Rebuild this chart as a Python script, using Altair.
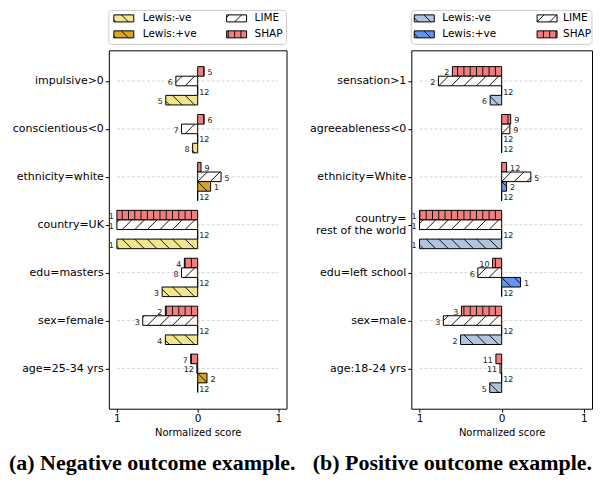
import math
import json
import altair as alt
import pandas as pd

# ------------------------------------------------------------------ data
features_a = ["impulsive>0", "conscientious<0", "ethnicity=white", "country=UK",
              "edu=masters", "sex=female", "age=25-34 yrs"]
shap_a = [0.078, 0.078, 0.041, -1.0, -0.165, -0.40, -0.086]
shap_rank_a = [5, 6, 9, 1, 4, 2, 7]
lime_a = [-0.27, -0.20, 0.29, -1.0, -0.20, -0.68, -0.01]
lime_rank_a = [6, 7, 5, 1, 8, 3, 12]
lewis_pos_a = [0, 0, 0.16, 0, 0, 0, 0.115]
lewis_pos_rank_a = [12, 12, 1, 12, 12, 12, 2]
lewis_neg_a = [-0.395, -0.062, 0, -1.0, -0.44, -0.40, 0]
lewis_neg_rank_a = [5, 8, 12, 1, 3, 4, 12]

features_b = ["sensation>1", "agreeableness<0", "ethnicity=White", "country=\nrest of the world",
              "edu=left school", "sex=male", "age:18-24 yrs"]
shap_b = [-0.60, 0.11, 0.06, -1.0, -0.11, -0.49, -0.07]
shap_rank_b = [2, 9, 12, 1, 10, 3, 11]
lime_b = [-0.77, 0.10, 0.355, -1.0, -0.29, -0.71, -0.02]
lime_rank_b = [2, 9, 5, 1, 6, 3, 11]
lewis_pos_b = [0, 0, 0.06, 0, 0.23, 0, 0]
lewis_pos_rank_b = [12, 12, 2, 12, 1, 12, 12]
lewis_neg_b = [-0.14, 0, 0, -1.0, 0, -0.50, -0.145]
lewis_neg_rank_b = [6, 12, 12, 1, 12, 2, 5]

caption_a = "(a) Negative outcome example."
caption_b = "(b) Positive outcome example."

# ------------------------------------------------------------------ style
METHODS = ["SHAP", "LIME", "Lewis:+ve", "Lewis:-ve"]
OFFSET = {"SHAP": -0.2, "LIME": 0.0, "Lewis:+ve": 0.2, "Lewis:-ve": 0.4}
HATCH = {"SHAP": "|", "LIME": "/", "Lewis:+ve": "\\", "Lewis:-ve": "\\"}
COLORS_A = {"SHAP": "#F08080", "LIME": "#FFFAFA", "Lewis:+ve": "#DAA520", "Lewis:-ve": "#F0E68C"}
COLORS_B = {"SHAP": "#F08080", "LIME": "#FFFAFA", "Lewis:+ve": "#6495ED", "Lewis:-ve": "#B0C4DE"}
BAR_H = 0.2
XDOM = [-1.1, 1.1]
YDOM = [-0.64, 6.84]
H = 359
V_SP = 6.3     # px spacing of vertical hatch
D_SP = 12.6    # px spacing of diagonal hatch
FONT = "DejaVu Sans"
LINE_H = 12


def hatch_lines(x_lo, x_hi, y_top, y_bot, kind, kx, ky):
    segs = []
    if x_hi - x_lo <= 1e-9:
        return segs
    if kind == "|":
        s = V_SP / kx
        k = math.floor(x_lo / s) + 1
        while k * s < x_hi - 1e-9:
            x = k * s
            if x > x_lo + 1e-9:
                segs.append((x, y_top, x, y_bot))
            k += 1
    else:
        s = D_SP / kx
        run = (y_bot - y_top) * ky / kx
        k = math.floor((x_lo - run) / s)
        while k * s < x_hi:
            c = k * s
            t0 = max(0.0, (x_lo - c) / run)
            t1 = min(1.0, (x_hi - c) / run)
            if t1 - t0 > 0.03:
                if kind == "/":
                    ya = y_bot + (y_top - y_bot) * t0
                    yb = y_bot + (y_top - y_bot) * t1
                else:
                    ya = y_top + (y_bot - y_top) * t0
                    yb = y_top + (y_bot - y_top) * t1
                segs.append((c + run * t0, ya, c + run * t1, yb))
            k += 1
    return segs


def panel(features, series, colors, width, leg, caption, cap_x, cap_align):
    kx = width / (XDOM[1] - XDOM[0])
    ky = H / (YDOM[1] - YDOM[0])
    bars, hat, grid = [], [], []
    for i, f in enumerate(features):
        grid.append(dict(gx0=-1.0, gx1=1.0, gy=float(i)))
        for m in METHODS:
            v = series[m][0][i]
            r = series[m][1][i]
            yc = i + OFFSET[m]
            y0, y1 = yc - BAR_H / 2, yc + BAR_H / 2
            bars.append(dict(method=m, v=v, zero=0.0, y0=y0, y1=y1, yc=yc,
                             rank=str(r), fill=colors[m]))
            for a, b, c, d in hatch_lines(min(0, v), max(0, v), y0, y1, HATCH[m], kx, ky):
                hat.append(dict(xa=a, ya=b, xb=c, yb=d))
    bars_df = pd.DataFrame(bars)
    hat_df = pd.DataFrame(hat)
    grid_df = pd.DataFrame(grid)

    labels = [f.split("\n") if "\n" in f else f for f in features]
    multi = [i for i, f in enumerate(features) if "\n" in f]
    if multi:
        test = " || ".join(f"datum.value == {i}" for i in multi)
        label_offset = {"condition": {"test": test, "value": -LINE_H / 2}, "value": 0}
    else:
        label_offset = 0

    xs = alt.Scale(domain=XDOM, nice=False, zero=False)
    ys = alt.Scale(domain=YDOM, nice=False, zero=False, reverse=True)
    xaxis = alt.Axis(values=[-1, 0, 1], labelExpr="format(abs(datum.value), 'd')",
                     title="Normalized score", titleFontSize=10, titleFontWeight="normal",
                     titlePadding=3, labelFontSize=10.5, tickSize=3.5, labelPadding=1.5,
                     grid=False, domain=False)
    yaxis = alt.Axis(values=list(range(len(features))),
                     labelExpr=json.dumps(labels) + "[datum.value]",
                     title=None, labelFontSize=11, tickSize=3.5, labelPadding=2,
                     labelLineHeight=LINE_H, labelOffset=label_offset,
                     grid=False, domain=False)

    def X(f):
        return alt.X(f"{f}:Q", scale=xs, axis=xaxis)

    def Y(f):
        return alt.Y(f"{f}:Q", scale=ys, axis=yaxis)

    one = pd.DataFrame({"k": [0]})

    grid_l = alt.Chart(grid_df).mark_rule(color="#d6d6d6", strokeDash=[3, 2], strokeWidth=1).encode(
        x=X("gx0"), x2="gx1", y=Y("gy"))
    bar_l = alt.Chart(bars_df).mark_rect(stroke="black", strokeWidth=1).encode(
        x=X("zero"), x2="v", y=Y("y0"), y2="y1", fill=alt.Fill("fill:N", scale=None))
    hat_l = alt.Chart(hat_df).mark_rule(color="black", strokeWidth=0.9).encode(
        x=X("xa"), x2="xb", y=Y("ya"), y2="yb")
    txt = dict(baseline="middle", dy=2, fontSize=8, font=FONT, color="#222222")
    lab_neg = alt.Chart(bars_df).transform_filter("datum.v < 0").mark_text(
        align="right", dx=-3, **txt).encode(x=X("v"), y=Y("yc"), text="rank:N")
    lab_zero = alt.Chart(bars_df).transform_filter("datum.v == 0").mark_text(
        align="left", dx=1.5, **txt).encode(x=X("v"), y=Y("yc"), text="rank:N")
    lab_pos = alt.Chart(bars_df).transform_filter("datum.v > 0").mark_text(
        align="left", dx=3.5, **txt).encode(x=X("v"), y=Y("yc"), text="rank:N")

    # ---- legend (pixel space) ----
    order = [("Lewis:-ve", 0, 0), ("Lewis:+ve", 0, 1), ("LIME", 1, 0), ("SHAP", 1, 1)]
    sw, sw_h, lt = [], [], []
    for m, col, row in order:
        x0 = leg["sw"][col]
        yc = leg["rows"][row]
        sw.append(dict(px0=x0, px1=x0 + 20, py0=yc - 3.5, py1=yc + 3.5, fill=colors[m]))
        for a, b, c, d in hatch_lines(x0, x0 + 20, yc - 3.5, yc + 3.5, HATCH[m], 1.0, 1.0):
            sw_h.append(dict(qa=a, qb=b, qc=c, qd=d))
        lt.append(dict(px=leg["tx"][col], py=yc, label=m))
    sw_df, swh_df, lt_df = pd.DataFrame(sw), pd.DataFrame(sw_h), pd.DataFrame(lt)

    box = alt.Chart(one).mark_rect(fill="white", stroke="#cccccc", strokeWidth=1, cornerRadius=3).encode(
        x=alt.value(0), x2=alt.value(width), y=alt.value(-40), y2=alt.value(-6))
    sw_l = alt.Chart(sw_df).mark_rect(stroke="black", strokeWidth=1).encode(
        x=alt.X("px0:Q", scale=None, axis=None), x2="px1",
        y=alt.Y("py0:Q", scale=None, axis=None), y2="py1",
        fill=alt.Fill("fill:N", scale=None))
    swh_l = alt.Chart(swh_df).mark_rule(color="black", strokeWidth=0.9).encode(
        x=alt.X("qa:Q", scale=None, axis=None), x2="qc",
        y=alt.Y("qb:Q", scale=None, axis=None), y2="qd")
    lt_l = alt.Chart(lt_df).mark_text(align="left", baseline="middle", fontSize=10.5, font=FONT,
                                      color="black").encode(
        x=alt.X("px:Q", scale=None, axis=None), y=alt.Y("py:Q", scale=None, axis=None),
        text="label:N")
    cap = alt.Chart(one).mark_text(text=caption, font="Liberation Serif", fontWeight="bold",
                                   fontSize=22, align=cap_align, baseline="alphabetic",
                                   color="black").encode(x=alt.value(cap_x), y=alt.value(420))

    return alt.layer(grid_l, bar_l, hat_l, lab_neg, lab_zero, lab_pos,
                     box, sw_l, swh_l, lt_l, cap).properties(width=width, height=H)


series_a = {"SHAP": (shap_a, shap_rank_a), "LIME": (lime_a, lime_rank_a),
            "Lewis:+ve": (lewis_pos_a, lewis_pos_rank_a), "Lewis:-ve": (lewis_neg_a, lewis_neg_rank_a)}
series_b = {"SHAP": (shap_b, shap_rank_b), "LIME": (lime_b, lime_rank_b),
            "Lewis:+ve": (lewis_pos_b, lewis_pos_rank_b), "Lewis:-ve": (lewis_neg_b, lewis_neg_rank_b)}

left = panel(features_a, series_a, COLORS_A, 178,
             {"sw": [5, 118], "tx": [34, 146], "rows": [-32, -16]},
             caption_a, -100, "left")
right = panel(features_b, series_b, COLORS_B, 181,
              {"sw": [3, 126], "tx": [31, 152], "rows": [-32, -16]},
              caption_b, 181, "right")

chart = alt.hconcat(left, right, spacing=125).properties(
    bounds="flush", padding={"left": 0, "top": 1, "right": 0, "bottom": 0}
).configure_view(stroke="black", strokeWidth=1).configure_axis(
    labelFont=FONT, titleFont=FONT, labelColor="black", titleColor="black",
    tickColor="black", tickWidth=1)

chart.save("out.html", embed_options={"renderer": "svg", "actions": False})
